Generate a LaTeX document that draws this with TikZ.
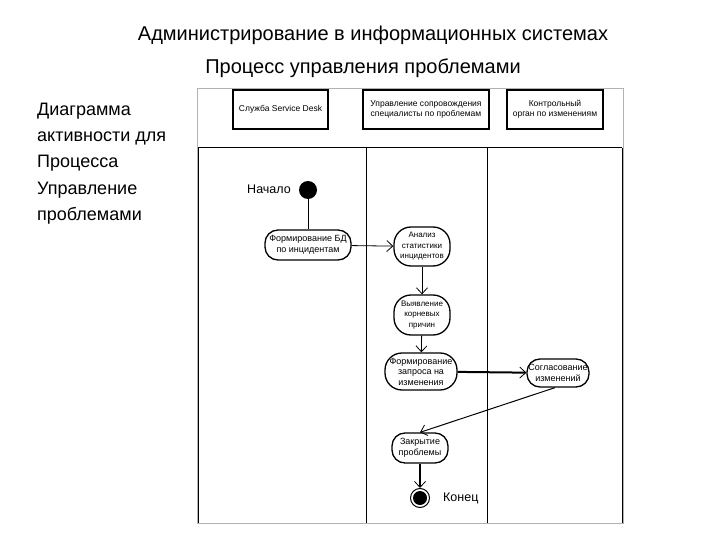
\documentclass[tikz,border=0pt]{standalone}
\usepackage{fontspec}
\setmainfont{Liberation Sans}
\usetikzlibrary{arrows.meta}
\begin{document}
\begin{tikzpicture}[x=1pt,y=-1pt,
  hdr/.style={draw,line width=1.8pt,align=center,font=\fontsize{8.5}{10}\selectfont,inner sep=1pt},
  act/.style={draw,line width=1.3pt,align=center,font=\fontsize{9}{10.5}\selectfont,inner sep=1pt,rounded corners=13pt},
  flow/.style={line width=0.8pt,-{Straight Barb[length=6pt,width=11pt]}},
  thick flow/.style={line width=2pt,-{Straight Barb[length=6pt,width=11pt,line width=0.8pt]}},
  lane/.style={line width=1pt},
  lbl/.style={font=\fontsize{12.5}{14}\selectfont,inner sep=0pt}
]
\useasboundingbox (0,0) rectangle (720,540);
% titles
\node[font=\fontsize{20}{22}\selectfont] (t1) at (373,35) {Администрирование в информационных системах};
\node[font=\fontsize{20}{22}\selectfont] (t2) at (363,68) {Процесс управления проблемами};
% left text
\node[anchor=north west,align=left,font=\fontsize{18}{26.2}\selectfont,inner sep=0pt] (desc) at (37,103)
 {Диаграмма\\активности для\\Процесса\\Управление\\проблемами};
% frames
\draw[gray!60,line width=0.8pt] (197,88) rectangle (623,523);
\draw[lane] (198,148) -- (622,148);
\draw[lane] (198,148) -- (198,523);
\draw[lane] (366,148) -- (366,523);
\draw[lane] (487,148) -- (487,523);
\draw[lane] (622,148) -- (622,523);
% header boxes
\node[hdr,minimum width=95pt,minimum height=39pt] (h1) at (280.5,109.5) {Служба Service Desk};
\node[hdr,minimum width=126pt,minimum height=39pt] (h2) at (426,109.5) {Управление сопровождения\\специалисты по проблемам};
\node[hdr,minimum width=96pt,minimum height=39pt] (h3) at (555,109.5) {Контрольный\\орган по изменениям};
% start / end
\node[circle,fill=black,minimum size=18pt,inner sep=0pt] (start) at (308,190) {};
\node[lbl,anchor=east] (startl) at (291,189) {Начало};
\node[circle,draw,line width=1pt,minimum size=19pt,inner sep=0pt] (end) at (420,498) {};
\node[circle,fill=black,minimum size=14pt,inner sep=0pt] (endin) at (420,498) {};
\node[lbl,anchor=west] (endl) at (443,498) {Конец};
% activities
\node[act,minimum width=86pt,minimum height=30pt] (a1) at (308,245) {Формирование БД\\по инцидентам};
\node[act,minimum width=56pt,minimum height=39pt,rounded corners=17pt,font=\fontsize{8}{10.5}\selectfont] (a2) at (422,246.5) {Анализ\\статистики\\инцидентов};
\node[act,minimum width=56pt,minimum height=40pt,rounded corners=17pt,font=\fontsize{8}{10.5}\selectfont] (a3) at (422,315) {Выявление\\корневых\\причин};
\node[act,minimum width=72pt,minimum height=37pt,rounded corners=17pt] (a4) at (421,371.5) {Формирование\\запроса на\\изменения};
\node[act,minimum width=62pt,minimum height=28pt] (a5) at (558,373) {Согласование\\изменений};
\node[act,minimum width=56pt,minimum height=30pt] (a6) at (420,448) {Закрытие\\проблемы};
% connectors
\draw[line width=0.8pt] (start) -- (a1);
\draw[flow] (a1) -- (a2);
\draw[flow] (a2) -- (a3);
\draw[flow] (a3) -- (a4);
\draw[thick flow] (a4) -- (a5);
\coordinate (c5) at ([xshift=-3pt]a5.south);
\draw[line width=1pt,-{Straight Barb[length=6pt,width=11pt,line width=0.8pt]}] (c5) -- (a6.north);
\draw[thick flow] (a6) -- (end);
\end{tikzpicture}
\end{document}
